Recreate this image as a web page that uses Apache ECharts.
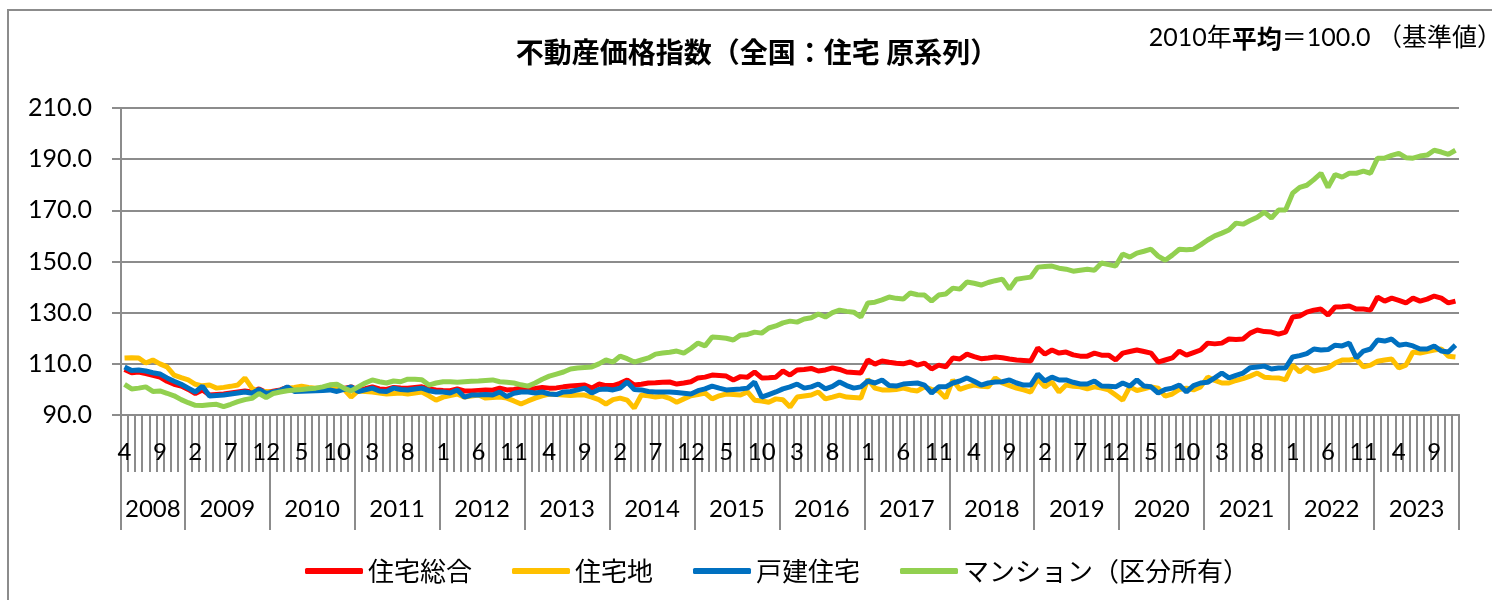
<!DOCTYPE html>
<html>
<head>
<meta charset="utf-8">
<script src="https://cdn.jsdelivr.net/npm/echarts@6/dist/echarts.min.js"></script>
<style>
  html, body { margin: 0; padding: 0; background: #fff; }
  #chart { width: 1492px; height: 600px; }
</style>
</head>
<body>
<div id="chart"></div>
<script>
// 不動産価格指数（全国：住宅 原系列） 2008/4 - 2023/12, 2010年平均=100
const years = [2008, 2009, 2010, 2011, 2012, 2013, 2014, 2015, 2016, 2017, 2018, 2019, 2020, 2021, 2022, 2023]
const firstMonth = 4
const yTicks = [90, 110, 130, 150, 170, 190, 210]

// 住宅総合
const sougou = [
  107.8, 106.5, 106.8, 106.2, 105.5, 104.8, 103.2, 102.0, 101.3,
  100.0, 98.4, 99.8, 97.8, 98.0, 98.2, 98.6, 99.0, 99.4, 99.0, 100.2, 98.8,
  99.3, 99.8, 100.8, 99.6, 99.7, 99.8, 100.0, 100.0, 100.2, 99.8, 100.4, 101.0,
  99.8, 100.3, 101.0, 100.2, 100.0, 100.8, 100.6, 100.5, 100.8, 101.0, 100.2, 99.8,
  99.6, 99.5, 100.2, 99.4, 99.4, 99.6, 99.8, 99.7, 100.5, 99.8, 100.0, 100.5,
  100.2, 100.4, 100.8, 100.5, 100.6, 101.0, 101.3, 101.5, 101.7, 100.5, 102.1, 101.5,
  101.5, 102.4, 103.7, 101.7, 102.0, 102.5, 102.6, 102.8, 102.9, 102.1, 102.5, 103.0,
  104.5, 104.8, 105.6, 105.4, 105.2, 103.7, 105.0, 104.8, 106.8, 104.5, 104.6, 104.8,
  107.2, 105.6, 107.6, 107.8, 108.2, 107.2, 107.6, 108.4, 107.8, 106.8, 106.6, 106.4,
  111.5, 109.9, 111.1, 110.6, 110.2, 110.0, 110.7, 109.5, 110.3, 108.0, 109.5, 108.8,
  112.3, 111.9, 113.8, 112.8, 112.0, 112.3, 112.7, 112.4, 111.9, 111.5, 111.3, 111.1,
  116.2, 113.8, 115.4, 114.2, 114.6, 113.5, 113.0, 113.0, 114.2, 113.4, 113.4, 111.5,
  114.2, 114.8, 115.4, 114.8, 114.2, 110.7, 111.5, 112.3, 115.0, 113.4, 114.4, 115.4,
  118.1, 117.8, 118.1, 119.7, 119.5, 119.7, 122.0, 123.2, 122.6, 122.4, 121.6, 122.4,
  128.3, 128.7, 130.2, 131.0, 131.4, 129.1, 132.2, 132.3, 132.6, 131.4, 131.4, 131.0,
  136.1, 134.5, 135.7, 134.8, 133.8, 135.7, 134.5, 135.3, 136.5, 135.7, 133.8, 134.5
]

// 住宅地
const takuchi = [
  112.3, 112.4, 112.3, 110.3, 111.5, 110.0, 108.8, 105.6, 104.6,
  103.7, 102.0, 101.4, 101.7, 100.5, 100.8, 101.2, 101.7, 104.5, 100.5, 99.0, 99.2,
  98.8, 99.5, 100.5, 100.8, 101.3, 100.8, 100.5, 100.5, 100.5, 101.0, 100.0, 97.0,
  99.4, 99.2, 99.0, 98.6, 98.2, 98.4, 98.6, 98.2, 98.6, 99.0, 97.5, 95.8,
  97.0, 97.6, 98.2, 97.0, 97.4, 97.8, 96.6, 96.8, 97.0, 96.6, 95.5, 94.3,
  95.5, 96.6, 97.5, 98.2, 98.0, 97.8, 97.6, 97.8, 97.8, 97.0, 96.0, 94.3,
  96.0, 96.6, 95.8, 92.7, 97.8, 97.5, 97.0, 97.4, 96.5, 95.0, 96.3, 97.5,
  98.0, 98.6, 96.3, 97.5, 98.2, 98.0, 97.8, 99.0, 95.8, 95.5, 95.0, 96.3,
  96.0, 93.1, 97.0, 97.4, 97.8, 99.0, 96.3, 97.0, 97.8, 97.0, 96.8, 96.6,
  104.0, 100.5, 99.8, 99.8, 100.0, 100.5, 99.8, 99.4, 101.0, 100.0, 99.4, 96.6,
  103.7, 100.0, 101.0, 101.7, 101.2, 101.0, 104.5, 102.5, 101.5, 100.5, 99.8, 99.0,
  104.0, 101.0, 102.9, 99.0, 101.7, 101.2, 101.0, 100.2, 101.0, 100.5, 99.8, 97.8,
  95.8, 101.0, 99.6, 100.2, 101.0, 100.5, 97.4, 98.2, 100.0, 100.5, 99.8, 101.0,
  104.8, 103.5, 102.5, 102.5, 103.5, 104.2, 105.2, 106.4, 104.8, 104.6, 104.5, 103.7,
  109.5, 106.8, 108.8, 107.2, 107.8, 108.4, 110.3, 111.5, 111.5, 111.9, 108.8, 109.5,
  111.0, 111.5, 111.9, 108.4, 109.5, 114.6, 114.2, 114.8, 115.4, 115.8, 113.0, 112.7
]

// 戸建住宅
const kodate = [
  108.8, 107.4, 107.6, 107.2, 106.5, 106.0, 104.5, 103.2, 102.0,
  100.5, 99.0, 101.3, 97.4, 97.6, 97.8, 98.2, 98.6, 99.0, 98.5, 100.0, 98.4,
  99.0, 99.6, 101.0, 99.2, 99.3, 99.4, 99.5, 99.6, 99.8, 99.2, 100.0, 101.0,
  99.2, 99.8, 100.5, 99.4, 99.2, 100.5, 100.0, 99.8, 100.2, 100.5, 99.5, 99.0,
  99.0, 98.6, 99.8, 97.0, 97.8, 97.8, 98.0, 97.8, 99.0, 97.2, 98.5, 99.0,
  99.0, 98.6, 99.0, 98.2, 98.0, 99.0, 99.2, 99.8, 100.5, 98.6, 100.0, 100.2,
  99.8, 100.5, 102.9, 100.0, 99.8, 99.2, 99.0, 99.0, 99.0, 98.8, 98.5, 98.2,
  99.5, 100.2, 101.3, 100.5, 99.8, 100.0, 100.2, 100.5, 102.9, 97.0, 98.0, 99.0,
  100.2, 101.0, 102.1, 100.5, 101.0, 102.1, 100.2, 101.2, 102.9, 101.5, 100.5, 101.0,
  103.3, 102.5, 103.7, 101.5, 101.3, 102.1, 102.3, 102.5, 101.7, 98.6, 101.0, 101.0,
  102.5, 103.3, 104.5, 103.2, 101.7, 102.5, 102.9, 103.0, 103.7, 102.5, 101.7, 101.7,
  106.0, 103.3, 104.8, 103.7, 103.7, 102.8, 102.1, 102.1, 103.3, 101.3, 101.2, 101.0,
  102.5, 101.3, 103.7, 101.3, 101.0, 98.6, 100.0, 100.5, 101.7, 99.0, 101.5, 102.5,
  102.8, 104.5, 106.4, 104.5, 105.5, 106.4, 108.5, 108.8, 109.1, 108.0, 108.4, 108.4,
  112.7, 113.2, 114.0, 115.8, 115.4, 115.6, 117.3, 117.0, 118.1, 112.3, 115.0, 115.8,
  119.3, 118.9, 119.7, 117.3, 117.7, 117.0, 115.8, 115.8, 117.0, 115.0, 114.6, 117.3
]

// マンション（区分所有）
const mansion = [
  102.0, 100.2, 100.5, 101.0, 99.2, 99.4, 98.5, 97.5, 96.0,
  94.8, 93.8, 93.7, 94.0, 94.2, 93.3, 94.2, 95.2, 96.0, 96.5, 98.4, 96.8,
  98.4, 99.0, 99.5, 99.8, 100.0, 100.3, 100.5, 101.0, 101.8, 102.0, 100.5, 99.4,
  101.0, 102.5, 103.7, 103.0, 102.5, 103.3, 103.0, 104.0, 104.0, 103.8, 101.7, 102.5,
  103.0, 103.0, 102.8, 103.0, 103.2, 103.3, 103.5, 103.7, 103.0, 102.8, 102.5, 101.8,
  101.3, 102.5, 104.0, 105.2, 106.0, 106.8, 108.0, 108.4, 108.6, 108.8, 110.0, 111.5,
  110.7, 113.0, 112.0, 110.7, 111.5, 112.3, 113.8, 114.2, 114.5, 115.0, 114.2, 116.0,
  118.1, 117.0, 120.5, 120.3, 120.0, 119.3, 121.2, 121.5, 122.4, 122.0, 124.0, 124.8,
  126.0, 126.7, 126.3, 127.5, 128.0, 129.5, 128.3, 130.0, 131.0, 130.5, 130.2, 128.3,
  133.8, 134.1, 135.0, 136.1, 135.6, 135.3, 137.7, 137.0, 136.9, 134.5, 136.9, 137.3,
  139.6, 139.2, 142.0, 141.5, 140.8, 141.8, 142.5, 143.1, 139.2, 143.1, 143.5, 143.9,
  147.8, 148.0, 148.2, 147.4, 147.0, 146.2, 146.6, 147.0, 146.6, 149.4, 148.8, 148.2,
  152.9, 151.7, 153.3, 154.0, 154.8, 152.1, 150.5, 152.5, 154.8, 154.6, 154.8, 156.5,
  158.4, 160.0, 161.1, 162.3, 165.0, 164.6, 166.0, 167.3, 169.3, 167.0, 170.1, 170.1,
  176.7, 179.0, 179.8, 182.0, 184.5, 179.0, 184.0, 183.0, 184.5, 184.5, 185.3, 184.5,
  190.4, 190.4, 191.5, 192.3, 190.6, 190.4, 191.2, 191.6, 193.5, 192.8, 191.9, 193.5
]

const categories = []
years.forEach(y => {
  for (let m = (y === years[0] ? firstMonth : 1); m <= 12; m++) {
    categories.push(y + '/' + m)
  }
})

const gray = '#8c8c8c'
const numFont = 'Lato'
const jpFont = '"Noto Sans CJK JP"'

const chart = echarts.init(document.getElementById('chart'))

function lineSeries(name, data, color) {
  return {
    name: name,
    type: 'line',
    data: data,
    symbol: 'none',
    lineStyle: { color: color, width: 5 },
    itemStyle: { color: color }
  }
}

chart.setOption({
  animation: false,
  backgroundColor: '#fff',
  graphic: [
    {
      type: 'rect',
      shape: { x: 8, y: 10, width: 1600, height: 700 },
      style: { fill: 'none', stroke: gray, lineWidth: 2 },
      silent: true
    },
    {
      type: 'text',
      style: {
        x: 757, y: 52,
        text: '不動産価格指数（全国：住宅 原系列）',
        font: 'bold 28px "Noto Sans CJK JP"',
        fill: '#000',
        textAlign: 'center',
        textVerticalAlign: 'middle'
      }
    },
    {
      type: 'text',
      style: {
        x: 1502, y: 38,
        text: '2010年{b|平均}＝100.0 （基準値）',
        font: '25px Lato, "Noto Sans CJK JP"',
        fill: '#000',
        textAlign: 'right',
        textVerticalAlign: 'middle',
        rich: {
          b: { fontFamily: jpFont, fontSize: 25, fontWeight: 'bold', fill: '#000' }
        }
      }
    }
  ],
  legend: {
    left: 300,
    top: 553,
    itemWidth: 58,
    itemHeight: 6,
    itemGap: 40,
    icon: 'roundRect',
    textStyle: { fontFamily: jpFont, fontSize: 26, color: '#000' },
    data: ['住宅総合', '住宅地', '戸建住宅', 'マンション（区分所有）']
  },
  grid: { left: 121, right: 33, top: 108, bottom: 185 },
  xAxis: [
    {
      type: 'category',
      data: categories,
      axisLine: { show: true, lineStyle: { color: gray, width: 2 } },
      axisTick: { show: true, interval: 0, length: 57, lineStyle: { color: gray, width: 2 } },
      axisLabel: {
        interval: 4,
        margin: 25,
        fontFamily: numFont,
        fontSize: 24,
        color: '#000',
        formatter: v => v.split('/')[1]
      }
    },
    {
      type: 'category',
      data: categories,
      position: 'bottom',
      axisLine: { show: true, lineStyle: { color: gray, width: 2 } },
      axisTick: {
        show: true,
        interval: (i, v) => i === 0 || v.split('/')[1] === '1',
        length: 115,
        lineStyle: { color: gray, width: 2 }
      },
      axisLabel: {
        interval: (i, v) => {
          const p = v.split('/')
          return p[0] === String(years[0]) ? p[1] === '8' : p[1] === '7'
        },
        margin: 82,
        fontFamily: numFont,
        fontSize: 24,
        color: '#000',
        formatter: v => {
          const y = v.split('/')[0]
          return y === String(years[0]) ? y : '{s|' + y + '}'
        },
        rich: { s: { fontFamily: numFont, fontSize: 24, color: '#000', padding: [0, 7, 0, 0] } }
      }
    }
  ],
  yAxis: {
    type: 'value',
    min: yTicks[0],
    max: yTicks[yTicks.length - 1],
    interval: 20,
    axisLine: { show: true, lineStyle: { color: gray, width: 2 } },
    axisTick: { show: true, length: 9, lineStyle: { color: gray, width: 2 } },
    axisLabel: {
      margin: 29,
      fontFamily: numFont,
      fontSize: 25,
      color: '#000',
      formatter: v => v.toFixed(1)
    },
    splitLine: { lineStyle: { color: gray, width: 2 } }
  },
  series: [
    lineSeries('住宅総合', sougou, '#FF0000'),
    lineSeries('住宅地', takuchi, '#FFC000'),
    lineSeries('戸建住宅', kodate, '#0070C0'),
    lineSeries('マンション（区分所有）', mansion, '#92D050')
  ]
})
</script>
</body>
</html>
